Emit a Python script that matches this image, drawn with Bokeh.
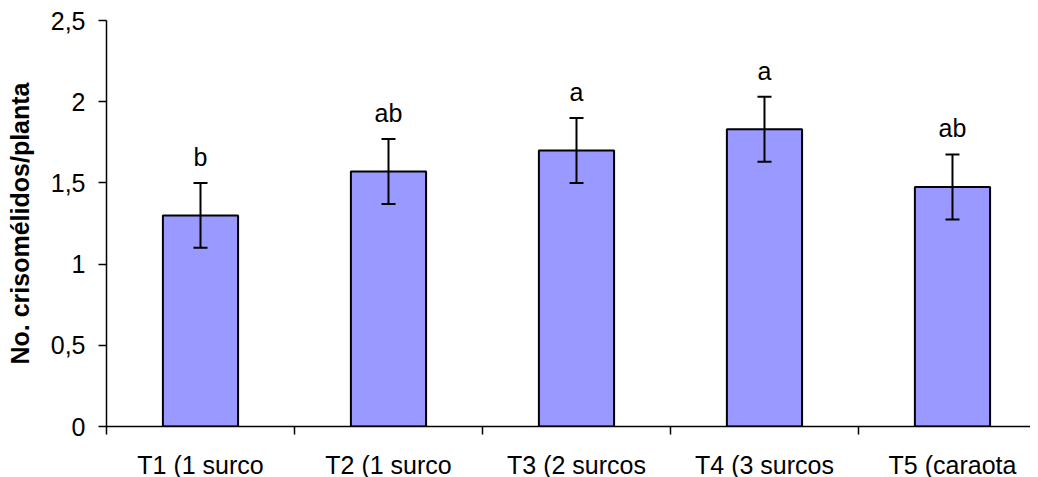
from bokeh.plotting import figure
from bokeh.models import ColumnDataSource, Range1d, FixedTicker, Whisker, TeeHead
from bokeh.core.properties import value
from bokeh.embed import file_html
from bokeh.resources import INLINE

categories = ["T1 (1 surco", "T2 (1 surco", "T3 (2 surcos", "T4 (3 surcos", "T5 (caraota"]
means = [1.30, 1.57, 1.70, 1.83, 1.475]
errors = [0.20, 0.20, 0.20, 0.20, 0.20]
letters = ["b", "ab", "a", "a", "ab"]
y_ticks = [0, 0.5, 1, 1.5, 2, 2.5]
y_tick_labels = ["0", "0,5", "1", "1,5", "2", "2,5"]

FONT = "Liberation Sans"

xs = [i + 0.5 for i in range(len(categories))]
src = ColumnDataSource(dict(
    x=xs, top=means,
    upper=[m + e for m, e in zip(means, errors)],
    lower=[m - e for m, e in zip(means, errors)],
    letter=letters,
))

p = figure(width=1030, height=469, output_backend="svg", toolbar_location=None,
           x_range=Range1d(0, 4.915), y_range=Range1d(0, 2.5),
           min_border_left=106, min_border_top=20, min_border_bottom=43, min_border_right=0,
           frame_width=924, frame_height=406)
p.outline_line_color = None
p.xgrid.visible = False
p.ygrid.visible = False

p.vbar(x="x", top="top", width=0.4, bottom=0, source=src,
       fill_color="#9999FF", line_color="black", line_width=2)

w = Whisker(base="x", upper="upper", lower="lower", source=src,
            line_color="black", line_width=2, level="overlay",
            upper_head=TeeHead(size=14, line_color="black", line_width=2),
            lower_head=TeeHead(size=14, line_color="black", line_width=2))
p.add_layout(w)

p.text(x="x", y="upper", text="letter", source=src, text_align="center",
       text_baseline="alphabetic", y_offset=-26, text_font=value(FONT),
       text_font_size="25px", text_color="black")

# x axis
p.xaxis.ticker = FixedTicker(ticks=xs, minor_ticks=list(range(len(categories))))
p.xaxis.major_label_overrides = {x: c for x, c in zip(xs, categories)}
p.xaxis.major_tick_out = 0
p.xaxis.major_tick_in = 0
p.xaxis.minor_tick_out = 8
p.xaxis.minor_tick_in = 0
p.xaxis.major_label_standoff = 16
p.xaxis.major_label_text_font = FONT
p.xaxis.major_label_text_font_size = "25px"
p.xaxis.major_label_text_color = "black"
p.xaxis.axis_line_color = "black"
p.xaxis.axis_line_width = 1.5
p.xaxis.minor_tick_line_color = "black"
p.xaxis.minor_tick_line_width = 1.5

# y axis
p.yaxis.ticker = FixedTicker(ticks=y_ticks, minor_ticks=[])
p.yaxis.major_label_overrides = {t: l for t, l in zip(y_ticks, y_tick_labels)}
p.yaxis.major_tick_out = 8
p.yaxis.major_tick_in = 0
p.yaxis.major_tick_line_width = 1.5
p.yaxis.major_tick_line_color = "black"
p.yaxis.major_label_standoff = 13
p.yaxis.major_label_text_font = FONT
p.yaxis.major_label_text_font_size = "25px"
p.yaxis.major_label_text_color = "black"
p.yaxis.axis_line_color = "black"
p.yaxis.axis_line_width = 1.5
p.yaxis.axis_label = "No. crisomélidos/planta"
p.yaxis.axis_label_text_font = FONT
p.yaxis.axis_label_text_font_size = "25px"
p.yaxis.axis_label_text_font_style = "bold"
p.yaxis.axis_label_text_color = "black"
p.yaxis.axis_label_standoff = 14

open("out.html", "w").write(file_html(p, INLINE))
